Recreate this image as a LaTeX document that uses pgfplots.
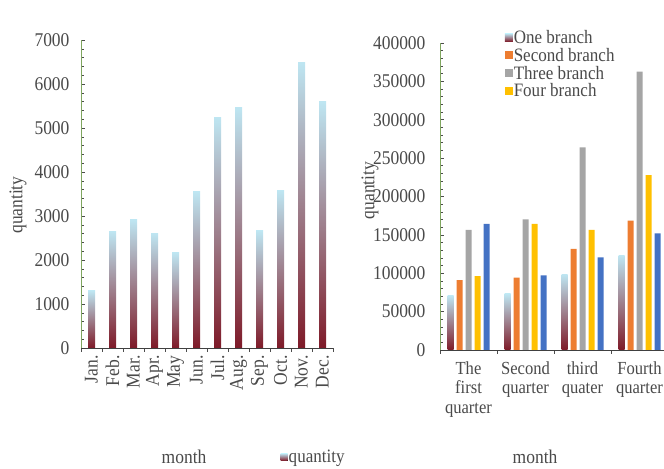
\documentclass[border=0pt]{standalone}
\usepackage{pgfplots}
\pgfplotsset{compat=1.18}
\usepackage{fontspec}
\setmainfont{Liberation Serif}[FakeStretch=0.9]
\definecolor{txt}{HTML}{4A4A4A}
\definecolor{axgreen}{HTML}{7FA55F}
\definecolor{gbot}{HTML}{7E1A28}
\definecolor{gmid}{HTML}{9E8890}
\definecolor{gtop}{HTML}{BEE6F2}
\definecolor{corange}{HTML}{ED7D31}
\definecolor{cgray}{HTML}{A5A5A5}
\definecolor{cyellow}{HTML}{FFC000}
\definecolor{cblue}{HTML}{4472C4}
\pgfplotsset{
  mystyle/.style={
    scale only axis, anchor=south west,
    axis x line*=bottom, axis y line*=left,
    x axis line style={draw=black!75, line width=0.9bp},
    y axis line style={draw=axgreen, line width=0.9bp},
    tick align=inside,
    major tick length=4bp, minor tick length=2.5bp,
    tick style={draw=black!70, line width=0.6bp},
    x tick label as interval,
    yticklabel={\pgfmathprintnumber[fixed,precision=0,1000 sep={},assume math mode=true]{\tick}},
    scaled y ticks=false,
    tick label style={font=\fontsize{19.5}{20}\selectfont, text=txt},
    label style={font=\fontsize{19.5}{20}\selectfont, text=txt},
    legend style={draw=none, fill=none, font=\fontsize{19}{20}\selectfont, text=txt,
      legend cell align=left, nodes={inner sep=1bp},
      /tikz/every even column/.append style={column sep=2bp}},
    ymin=0,
  },
  gbar/.style={draw=none, top color=gtop, middle color=gmid, bottom color=gbot, bar shift=#1},
}
\begin{document}
\begin{tikzpicture}
\path[use as bounding box] (0bp,0bp) rectangle (664bp,469bp);
% ---------------- left chart
\begin{axis}[mystyle,
  at={(81bp,121bp)}, width=252bp, height=308bp,
  xmin=-0.5, xmax=11.5, ymax=7000,
  xtick={-0.5,0.5,1.5,2.5,3.5,4.5,5.5,6.5,7.5,8.5,9.5,10.5,11.5},
  xticklabels={Jan.,Feb.,Mar.,Apr.,May,Jun.,Jul.,Aug.,Sep.,Oct.,Nov.,Dec.},
  xticklabel style={rotate=90, anchor=east},
  ytick={0,1000,...,7000}, minor y tick num=4,
  yticklabel style={xshift=-8bp},
  ybar, bar width=7bp,
  xlabel={month}, xlabel style={at={(axis description cs:0.409,-0.354)}, anchor=center},
  ylabel={quantity}, ylabel style={at={(axis description cs:-0.25,0.464)}, anchor=center},
  legend style={at={(axis description cs:0.78,-0.354)}, anchor=west},
  legend image code/.code={\fill[#1] (0bp,-3.5bp) rectangle (7bp,3.5bp);},
]
\addplot[gbar=0bp] coordinates {(0,1300)};
\addlegendentry{quantity}
\addplot[gbar=0bp, forget plot] coordinates {(1,2650)};
\addplot[gbar=0bp, forget plot] coordinates {(2,2920)};
\addplot[gbar=0bp, forget plot] coordinates {(3,2610)};
\addplot[gbar=0bp, forget plot] coordinates {(4,2170)};
\addplot[gbar=0bp, forget plot] coordinates {(5,3550)};
\addplot[gbar=0bp, forget plot] coordinates {(6,5250)};
\addplot[gbar=0bp, forget plot] coordinates {(7,5470)};
\addplot[gbar=0bp, forget plot] coordinates {(8,2660)};
\addplot[gbar=0bp, forget plot] coordinates {(9,3580)};
\addplot[gbar=0bp, forget plot] coordinates {(10,6500)};
\addplot[gbar=0bp, forget plot] coordinates {(11,5600)};
\end{axis}
% ---------------- right chart
\begin{axis}[mystyle,
  at={(440bp,119bp)}, width=228bp, height=307bp,
  xmin=-0.5, xmax=3.5, ymax=400000,
  xtick={-0.5,0.5,1.5,2.5,3.5},
  xticklabels={{The\\first\\quarter},{Second\\quarter},{third\\quater},{Fourth\\quarter}},
  xticklabel style={align=center, font=\fontsize{18.5}{19.5}\selectfont, yshift=-4bp},
  ytick={0,50000,...,400000}, minor y tick num=4,
  yticklabel style={xshift=-11bp},
  ybar, bar width=6bp,
  xlabel={month}, xlabel style={at={(axis description cs:0.417,-0.348)}, anchor=center},
  ylabel={quantity}, ylabel style={at={(axis description cs:-0.307,0.52)}, anchor=center},
  legend style={at={(axis description cs:0.27,1.052)}, anchor=north west, row sep=1.2bp},
  legend image code/.code={\fill[#1] (0bp,-4bp) rectangle (8bp,4bp);},
]
\addplot[gbar=-18bp] coordinates {(0,70700)};
\addlegendentry{One branch}
\addplot[gbar=-18bp, forget plot] coordinates {(1,73000)};
\addplot[gbar=-18bp, forget plot] coordinates {(2,99000)};
\addplot[gbar=-18bp, forget plot] coordinates {(3,123300)};
\addplot[draw=none, fill=corange, bar shift=-9bp] coordinates {(0,91200) (1,94200) (2,131600) (3,168500)};
\addlegendentry{Second branch}
\addplot[draw=none, fill=cgray, bar shift=0bp] coordinates {(0,156400) (1,170200) (2,264000) (3,362600)};
\addlegendentry{Three branch}
\addplot[draw=none, fill=cyellow, bar shift=9bp] coordinates {(0,96400) (1,164200) (2,156400) (3,228000)};
\addlegendentry{Four branch}
\addplot[draw=none, fill=cblue, bar shift=18bp, forget plot] coordinates {(0,164200) (1,97300) (2,120800) (3,152000)};
\end{axis}
\end{tikzpicture}
\end{document}
